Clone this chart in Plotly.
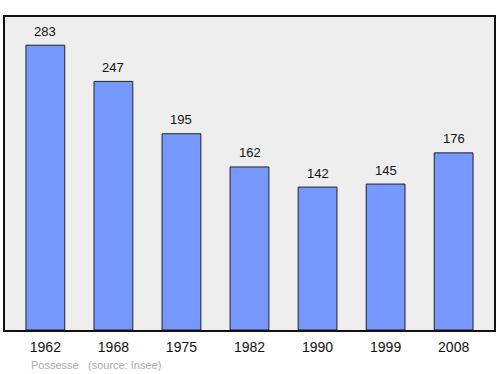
import plotly.graph_objects as go

years = ["1962", "1968", "1975", "1982", "1990", "1999", "2008"]
population = [283, 247, 195, 162, 142, 145, 176]
commune = "Possesse"
source = "(source: Insee)"

fig = go.Figure()
fig.add_trace(go.Bar(
    x=years, y=population,
    width=0.57,
    marker=dict(color="#7799ff", line=dict(color="#222222", width=1)),
    hoverinfo="skip",
))

for i, v in enumerate(population):
    fig.add_annotation(x=i, y=v, text=str(v), showarrow=False,
                       yshift=14, font=dict(size=13, color="#111111"))

fig.add_annotation(xref="paper", yref="paper", x=0.05, y=-0.112, xanchor="left", yanchor="middle",
                   text=commune, showarrow=False, font=dict(size=11, color="#aaaaaa"))
fig.add_annotation(xref="paper", yref="paper", x=0.166, y=-0.112, xanchor="left", yanchor="middle",
                   text=source, showarrow=False, font=dict(size=11, color="#aaaaaa"))

fig.update_layout(
    width=500, height=374,
    margin=dict(l=5, r=4, t=17, b=44),
    paper_bgcolor="white",
    plot_bgcolor="#eeeeee",
    font=dict(family="Liberation Sans, Arial, sans-serif"),
    showlegend=False,
    xaxis=dict(type="category", range=[-0.593, 6.593], showgrid=False, zeroline=False,
               showline=True, linecolor="#111111", linewidth=1.5, mirror=True,
               ticks="", ticklabelstandoff=3,
               tickfont=dict(size=14, color="#111111"), fixedrange=True),
    yaxis=dict(range=[0, 311], showgrid=False, zeroline=False, showticklabels=False,
               showline=True, linecolor="#111111", linewidth=1.5, mirror=True,
               ticks="", fixedrange=True),
)

fig.write_html("out.html", config={"displayModeBar": False},
               post_script="document.body.style.margin='0';")
